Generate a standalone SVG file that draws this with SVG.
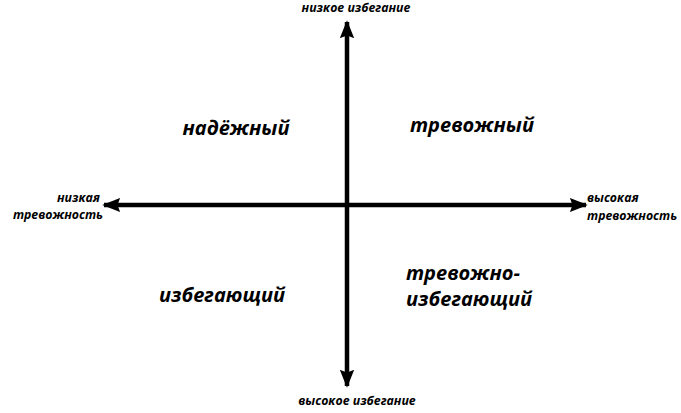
<svg xmlns="http://www.w3.org/2000/svg" width="681" height="413" viewBox="0 0 681 413">
<style>
text{font-family:"Open Sans","DejaVu Sans",sans-serif;font-weight:bold;font-style:italic;fill:#000}
.s{font-size:12.3px}
.q{font-size:20px}
.ax{stroke:#000;stroke-width:4.5;fill:none}
</style>
<defs>
<marker id="ah" viewBox="0 0 10 10" refX="9" refY="5" markerWidth="4" markerHeight="4" markerUnits="strokeWidth" orient="auto">
<path d="M0,1 L10,5 L0,9 L1.5,5 Z" fill="#000"/>
</marker>
</defs>
<rect width="681" height="413" fill="#fff"/>
<g id="connectors">
<line class="ax" x1="347" y1="205" x2="347" y2="22" marker-end="url(#ah)"/>
<line class="ax" x1="347" y1="205" x2="347" y2="386" marker-end="url(#ah)"/>
<line class="ax" x1="347" y1="205" x2="104" y2="205" marker-end="url(#ah)"/>
<line class="ax" x1="347" y1="205" x2="586" y2="205" marker-end="url(#ah)"/>
</g>
<g id="top-label"><text class="s" x="356" y="12" text-anchor="middle">низкое избегание</text></g>
<g id="bottom-label"><text class="s" x="357" y="405" text-anchor="middle">высокое избегание</text></g>
<g id="left-label"><text class="s" text-anchor="end"><tspan x="100" y="202">низкая</tspan><tspan x="103" y="219">тревожность</tspan></text></g>
<g id="right-label"><text class="s"><tspan x="587" y="202">высокая</tspan><tspan x="587" y="220">тревожность</tspan></text></g>
<g id="secure"><text class="q" x="236" y="135" text-anchor="middle">надёжный</text></g>
<g id="anxious"><text class="q" x="472" y="132" text-anchor="middle">тревожный</text></g>
<g id="avoidant"><text class="q" x="222" y="302" text-anchor="middle">избегающий</text></g>
<g id="anxious-avoidant"><text class="q" x="406" y="280">тревожно-</text><text class="q" x="406" y="306">избегающий</text></g>
</svg>
